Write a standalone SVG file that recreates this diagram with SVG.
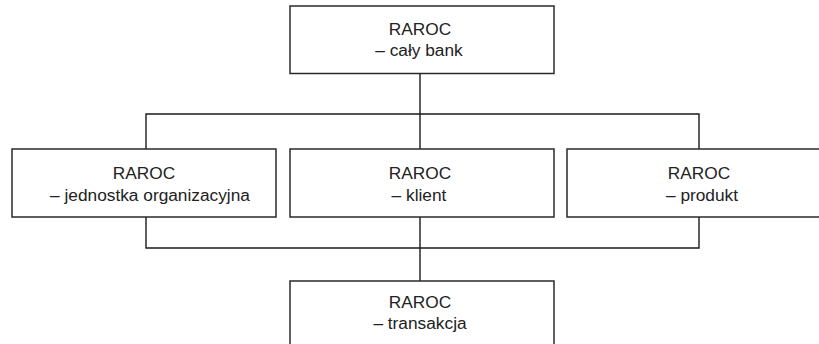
<svg xmlns="http://www.w3.org/2000/svg" width="819" height="344" viewBox="0 0 819 344">
<style>
.box{fill:#fff;stroke:#2a2a2a;stroke-width:1.5}
.ln{fill:none;stroke:#1a1a1a;stroke-width:1.4}
text{font-family:"Liberation Sans",Arial,sans-serif;font-size:17.3px;fill:#222;text-anchor:middle}
</style>
<rect width="819" height="344" fill="#fff"/>
<g id="connectors">
<path class="ln" d="M420 73.5V114M146 149V114H699V149M420 114V149"/>
<path class="ln" d="M146 217V248H699V217M420 217V248M420 248V281"/>
</g>
<g id="bank">
<rect class="box" x="290" y="6" width="264" height="67.5"/>
<text x="420" y="35">RAROC</text>
<text x="419" y="55.5">– cały bank</text>
</g>
<g id="jednostka">
<rect class="box" x="12" y="149" width="264" height="68"/>
<text x="144" y="179.3">RAROC</text>
<text x="150" y="200.7">– jednostka organizacyjna</text>
</g>
<g id="klient">
<rect class="box" x="290" y="149" width="264" height="68"/>
<text x="420" y="179.3">RAROC</text>
<text x="419" y="200.7">– klient</text>
</g>
<g id="produkt">
<rect class="box" x="567" y="149" width="264" height="68"/>
<text x="699" y="179.3">RAROC</text>
<text x="702" y="200.7">– produkt</text>
</g>
<g id="transakcja">
<rect class="box" x="290" y="281" width="264" height="70"/>
<text x="420" y="307.7">RAROC</text>
<text x="420" y="329">– transakcja</text>
</g>
</svg>
